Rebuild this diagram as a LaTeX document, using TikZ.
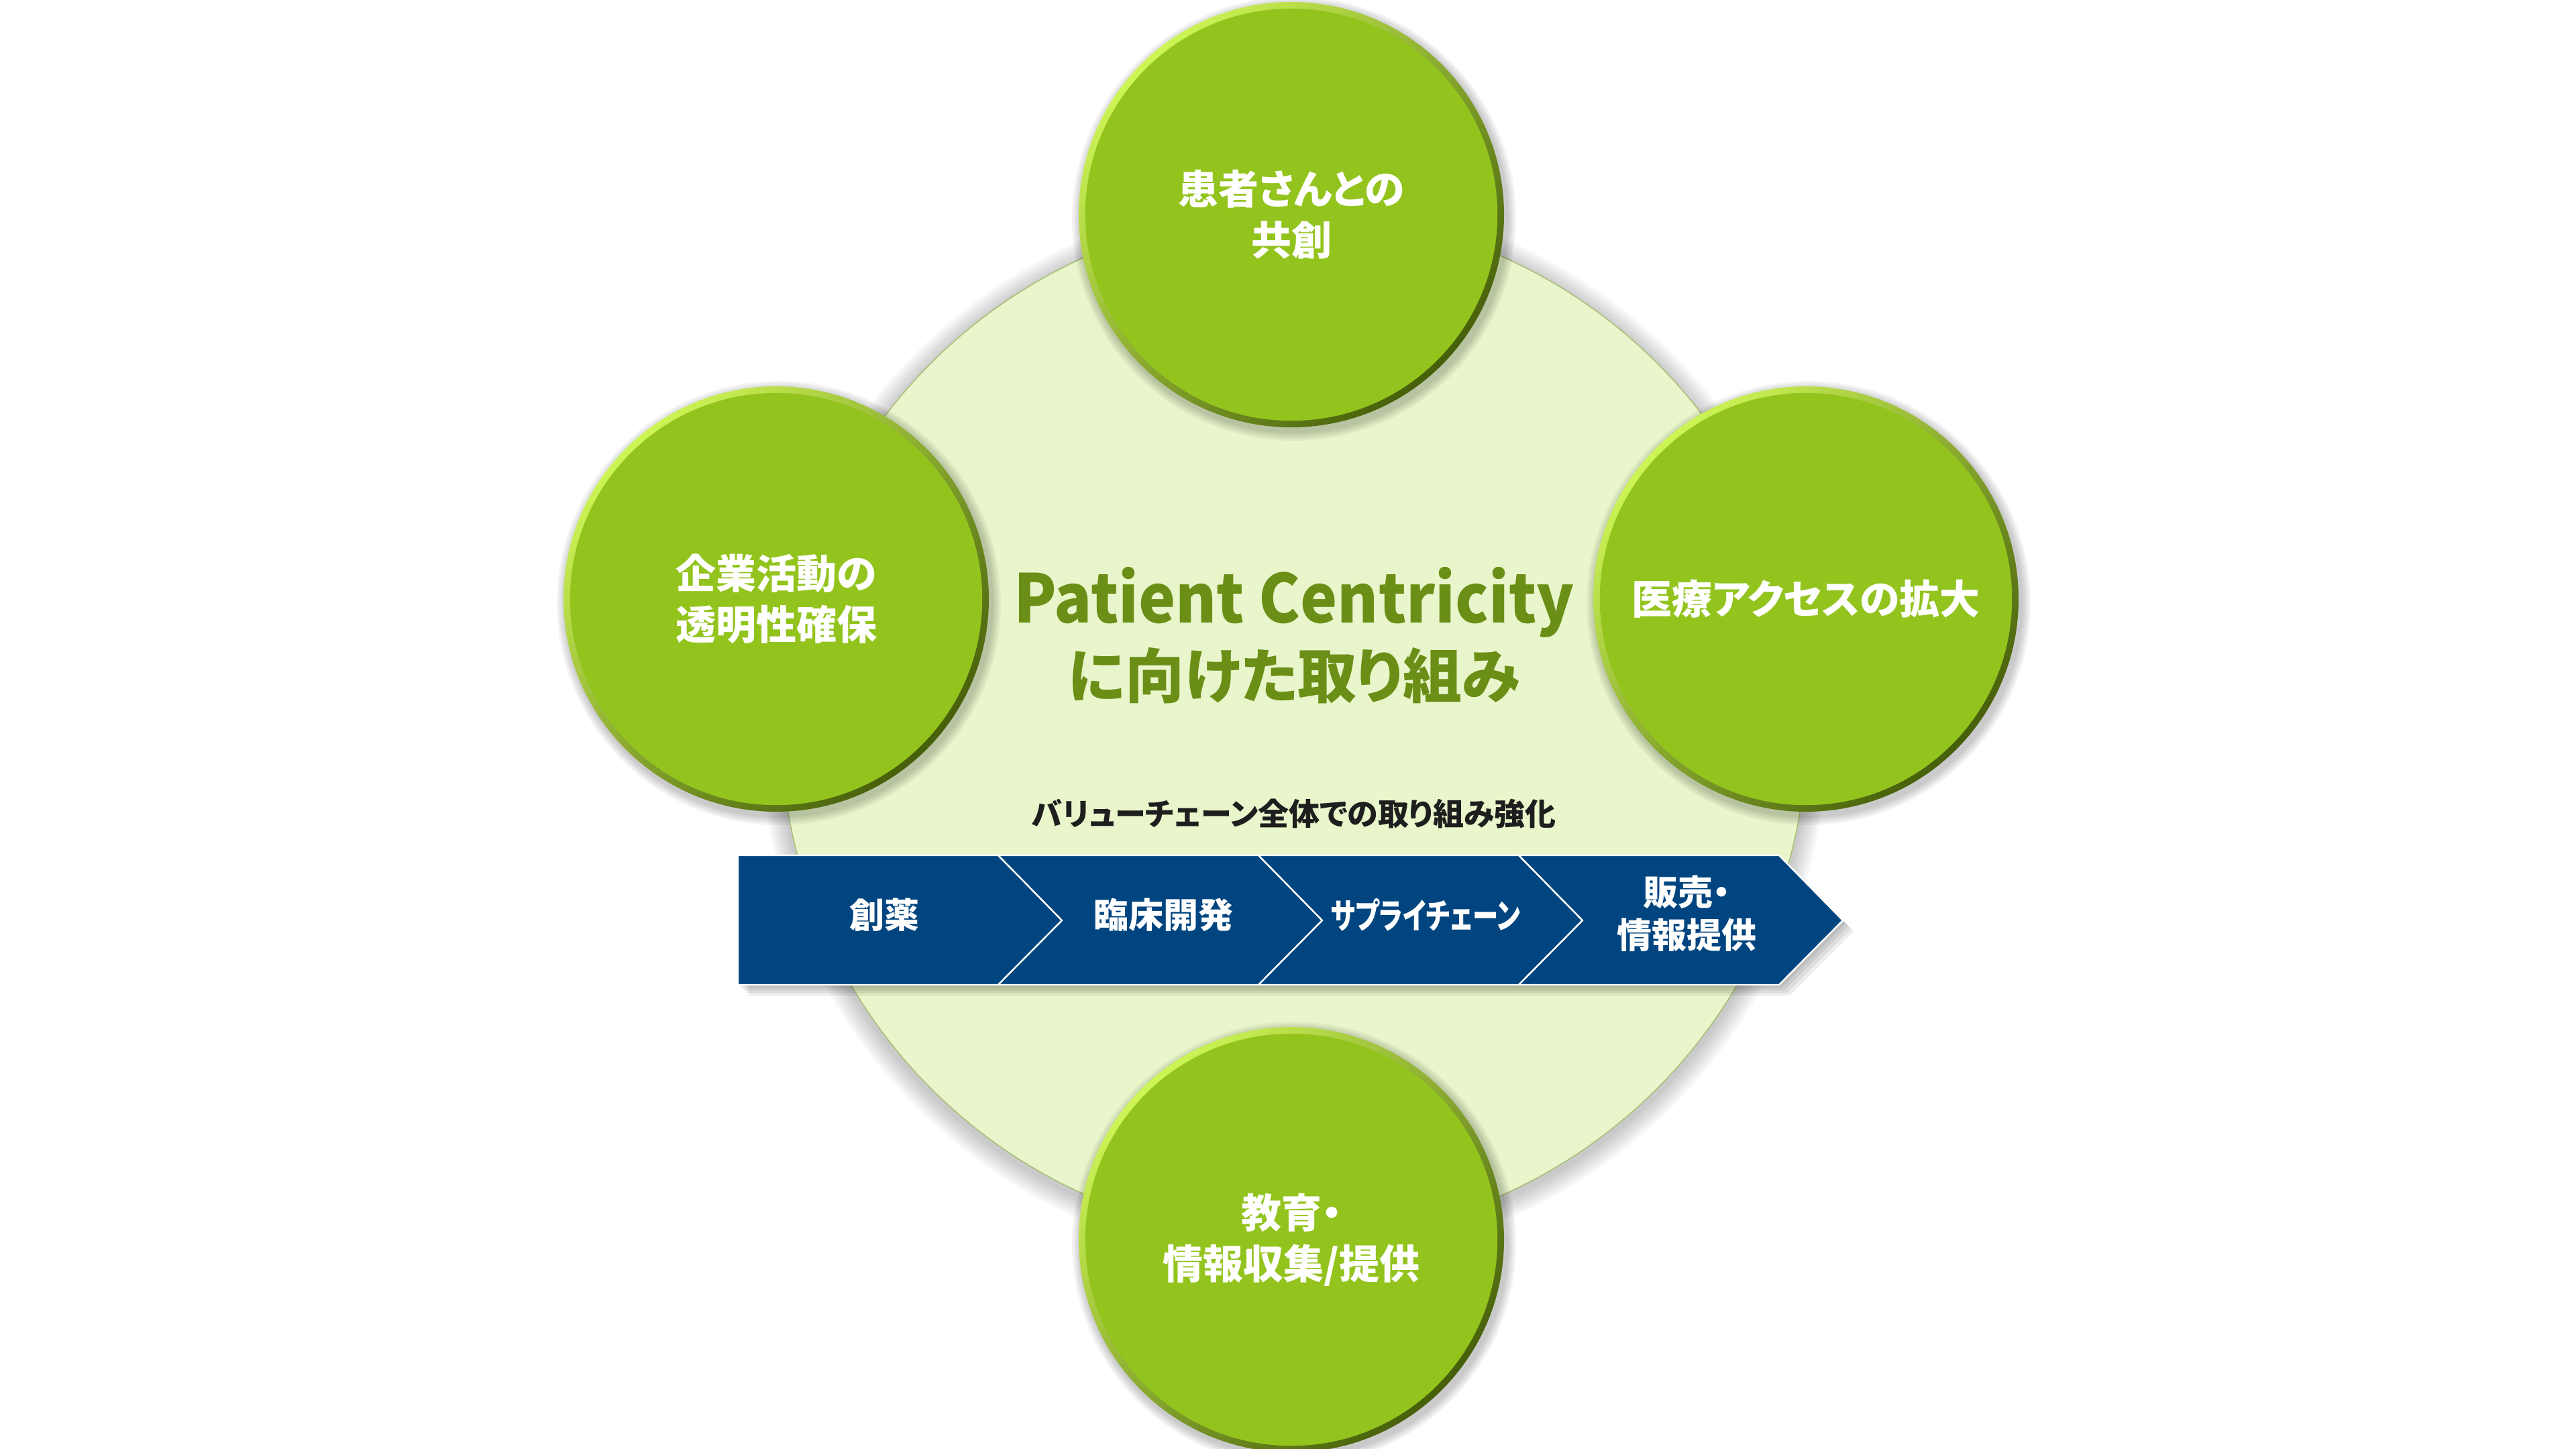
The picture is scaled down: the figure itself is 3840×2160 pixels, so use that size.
\documentclass[tikz,border=0pt]{standalone}
\usepackage{fontspec}
\newfontfamily\jp[RawFeature=+palt]{Noto Sans CJK JP}
\definecolor{ballgreen}{RGB}{147,196,30}
\definecolor{balllight}{RGB}{205,245,85}
\definecolor{balldark}{RGB}{70,95,10}
\definecolor{bigfill}{RGB}{233,246,203}
\definecolor{bigedge}{RGB}{170,190,120}
\definecolor{titlegreen}{RGB}{107,142,22}
\definecolor{chainblue}{RGB}{0,69,127}
\definecolor{subtext}{RGB}{30,30,30}
\tikzset{
  balltext/.style={text=white, font=\jp\bfseries\fontsize{15}{19}\selectfont, align=center, inner sep=0pt},
  chaintext/.style={text=white, font=\jp\bfseries\fontsize{13}{16}\selectfont, align=center, inner sep=0pt},
  chainseg/.style={fill=chainblue, draw=white, line width=0.6pt, line join=miter},
  titletext/.style={text=titlegreen, font=\jp\bfseries, inner sep=0pt},
  subtitletext/.style={text=subtext, font=\jp\bfseries\fontsize{11.5}{14}\selectfont, inner sep=0pt}
}
\newcommand\greenball[4]{%
  \foreach \k in {1,...,5} {\fill[black,opacity=0.045] (#1+4,#2+6) circle[radius={79.25pt+\k*0.7pt}];}
  \shade[top color=balllight, bottom color=balldark, shading angle=45] (#1,#2) circle[radius=79.25pt];
  \fill[ballgreen] (#1,#2) circle[radius=76.8pt];
  \node[balltext] (#3) at (#1,#2) {#4};
}
\begin{document}
\begin{tikzpicture}[x=0.25pt,y=-0.25pt]
\useasboundingbox (0,0) rectangle (3840,2160);
\fill[white] (0,0) rectangle (3840,2160);

% large background circle with soft shadow
\foreach \k in {1,...,7} {\fill[black,opacity=0.03] (1929,1088) circle[radius={191.25pt+\k*1.1pt}];}
\fill[bigfill] (1929,1082) circle[radius=191.25pt];
\draw[bigedge, line width=0.4pt] (1929,1082) circle[radius=191.25pt];

% value chain shadow
\foreach \k in {1,...,4} {
  \fill[black,opacity=0.07] (1100+4*\k,1275+4*\k) -- (2652+4*\k,1275+4*\k) -- (2747+4*\k,1372+4*\k) -- (2652+4*\k,1468+4*\k) -- (1100+4*\k,1468+4*\k) -- cycle;
}
% value chain segments
\draw[chainseg] (1100,1275) -- (1488,1275) -- (1583,1372) -- (1488,1468) -- (1100,1468) -- cycle;
\draw[chainseg] (1488,1275) -- (1876,1275) -- (1971,1372) -- (1876,1468) -- (1488,1468) -- (1583,1372) -- cycle;
\draw[chainseg] (1876,1275) -- (2264,1275) -- (2359,1372) -- (2264,1468) -- (1876,1468) -- (1971,1372) -- cycle;
\draw[chainseg] (2264,1275) -- (2652,1275) -- (2747,1372) -- (2652,1468) -- (2264,1468) -- (2359,1372) -- cycle;
\node[chaintext] (c1) at (1318,1364) {創薬};
\node[chaintext] (c2) at (1734,1364) {臨床開発};
\node[chaintext] (c3) at (2125,1364) {\scalebox{0.74}[1]{サプライチェーン}};
\node[chaintext] (c4) at (2514,1362) {販売・\\情報提供};

% green balls
\greenball{1925}{320}{top}{患者さんとの\\共創}
\greenball{1157}{893}{left}{企業活動の\\透明性確保}
\greenball{2692}{893}{right}{医療アクセスの拡大}
\greenball{1925}{1848}{bottom}{教育・\\情報収集/提供}

% title
\node[titletext, anchor=base, font=\jp\bfseries\fontsize{25}{30}\selectfont] (title1) at (1929,928) {\scalebox{0.93}[1]{Patient Centricity}};
\node[titletext, anchor=base, font=\jp\bfseries\fontsize{22}{26}\selectfont] (title2) at (1929,1040) {に向けた取り組み};
\node[subtitletext] (sub) at (1929,1213) {バリューチェーン全体での取り組み強化};
\end{tikzpicture}
\end{document}
